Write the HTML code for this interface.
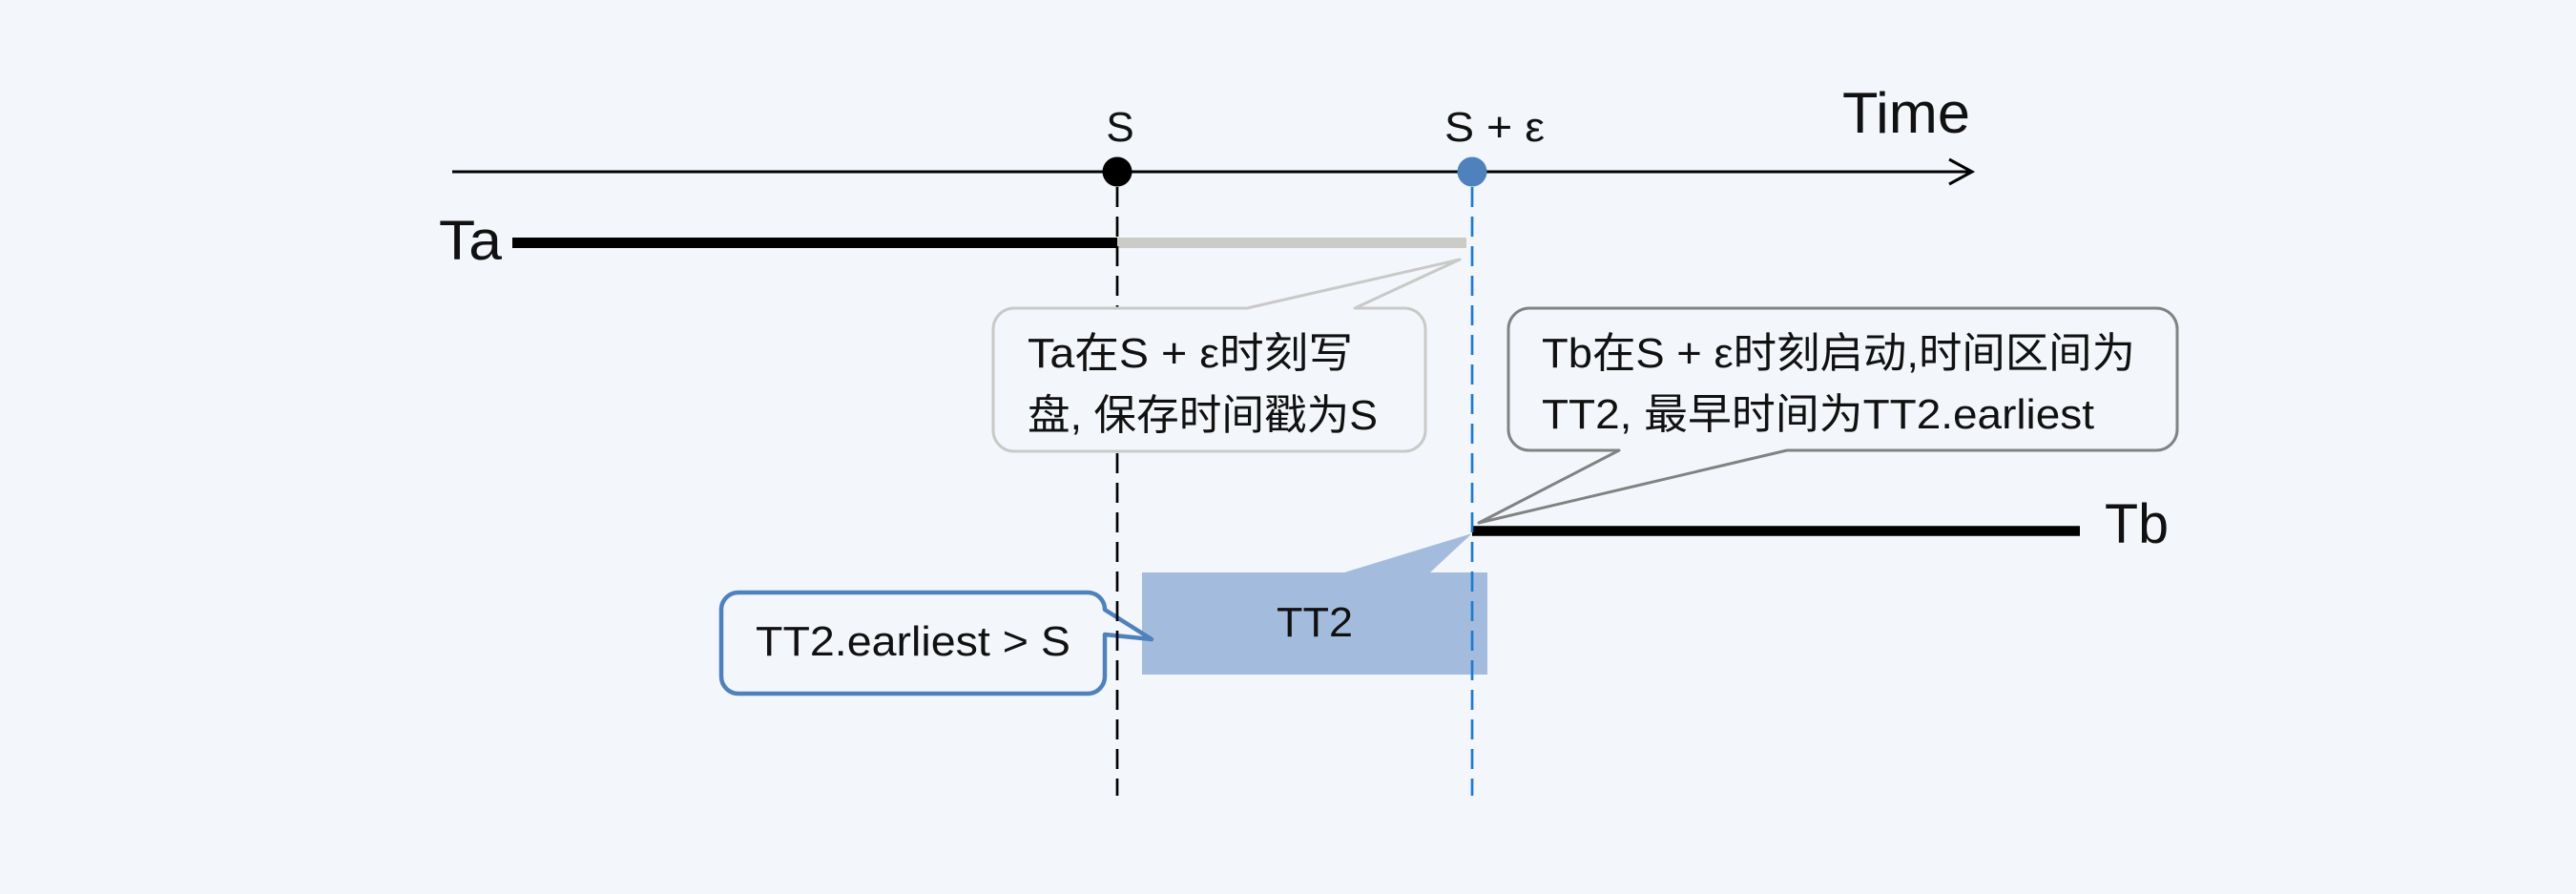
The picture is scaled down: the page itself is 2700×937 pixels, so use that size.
<!DOCTYPE html>
<html>
<head>
<meta charset="utf-8">
<style>
  html, body { margin: 0; padding: 0; background: #f3f6fb; }
  svg { display: block; }
  text { font-family: "Liberation Sans", "Noto Sans CJK SC", sans-serif; fill: #111; }
</style>
</head>
<body>
<svg width="2700" height="937" viewBox="0 0 2700 937" xmlns="http://www.w3.org/2000/svg">
  <rect x="0" y="0" width="2700" height="937" fill="#f3f6fb"/>

  <!-- Time axis -->
  <line x1="474" y1="180" x2="2066" y2="180" stroke="#000" stroke-width="3"/>
  <polyline points="2043,167 2067,180 2043,193" fill="none" stroke="#000" stroke-width="3" stroke-linejoin="miter"/>

  <!-- Ta bar -->
  <line x1="537" y1="254.5" x2="1171" y2="254.5" stroke="#000" stroke-width="11"/>
  <line x1="1171" y1="254.5" x2="1537" y2="254.5" stroke="#cbcbc7" stroke-width="11"/>

  <!-- Tb bar -->
  <line x1="1543" y1="556.5" x2="2180" y2="556.5" stroke="#000" stroke-width="10.5"/>

  <!-- TT2 block -->
  <path d="M1197,600 L1409,600 L1543,559 L1499,600 L1559,600 L1559,707 L1197,707 Z" fill="#a3bcdd"/>

  <!-- TT2.earliest callout -->
  <path d="M774,621 L1140,621 A18 18 0 0 1 1158,639 L1207,670 L1158,665 L1158,709 A18 18 0 0 1 1140,727 L774,727 A18 18 0 0 1 756,709 L756,639 A18 18 0 0 1 774,621 Z"
        fill="#f3f6fb" stroke="#4f81bd" stroke-width="4.5" stroke-linejoin="round"/>

  <!-- dashed verticals -->
  <line x1="1171" y1="196" x2="1171" y2="834" stroke="#000" stroke-width="2.7" stroke-dasharray="21 10"/>
  <line x1="1543" y1="196" x2="1543" y2="834" stroke="#1f7bcf" stroke-width="2.7" stroke-dasharray="21 10"/>

  <!-- Callout 1 (light gray) -->
  <path d="M1063,323 L1307,323 L1530,272 L1420,323 L1472,323 A22 22 0 0 1 1494,345 L1494,451 A22 22 0 0 1 1472,473 L1063,473 A22 22 0 0 1 1041,451 L1041,345 A22 22 0 0 1 1063,323 Z"
        fill="#f3f6fb" stroke="#c9c9c7" stroke-width="3" stroke-linejoin="round"/>

  <!-- Callout 2 (gray) -->
  <path d="M1603,323 L2260,323 A22 22 0 0 1 2282,345 L2282,450 A22 22 0 0 1 2260,472 L1873,472 L1550,548 L1697,472 L1603,472 A22 22 0 0 1 1581,450 L1581,345 A22 22 0 0 1 1603,323 Z"
        fill="#f3f6fb" stroke="#828282" stroke-width="3" stroke-linejoin="round"/>

  <!-- dots -->
  <circle cx="1171" cy="180" r="15.5" fill="#000"/>
  <circle cx="1543" cy="180" r="15.5" fill="#4f81bd"/>

  <!-- labels -->
  <text x="1174" y="148" font-size="44" text-anchor="middle">S</text>
  <text x="1514" y="148" font-size="44" textLength="105" lengthAdjust="spacingAndGlyphs">S + ε</text>
  <text x="1931" y="139" font-size="60" textLength="134" lengthAdjust="spacingAndGlyphs">Time</text>
  <text x="460" y="272" font-size="58" textLength="66" lengthAdjust="spacingAndGlyphs">Ta</text>
  <text x="2206" y="569" font-size="58" textLength="67" lengthAdjust="spacingAndGlyphs">Tb</text>

  <text x="1077" y="385" font-size="44" textLength="341" lengthAdjust="spacingAndGlyphs">Ta在S + ε时刻写</text>
  <text x="1077" y="450" font-size="44" textLength="367" lengthAdjust="spacingAndGlyphs">盘, 保存时间戳为S</text>

  <text x="1616" y="385" font-size="44" textLength="622" lengthAdjust="spacingAndGlyphs">Tb在S + ε时刻启动,时间区间为</text>
  <text x="1616" y="449" font-size="44" textLength="579" lengthAdjust="spacingAndGlyphs">TT2, 最早时间为TT2.earliest</text>

  <text x="1338" y="667" font-size="44" textLength="80" lengthAdjust="spacingAndGlyphs">TT2</text>
  <text x="792" y="687" font-size="44" textLength="330" lengthAdjust="spacingAndGlyphs">TT2.earliest &gt; S</text>
</svg>
</body>
</html>
